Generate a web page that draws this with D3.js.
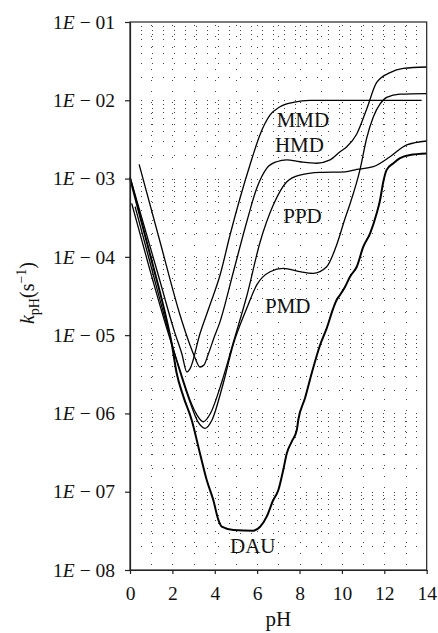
<!DOCTYPE html>
<html>
<head>
<meta charset="utf-8">
<script src="https://cdn.jsdelivr.net/npm/d3@7"></script>
<style>
  html, body { margin: 0; padding: 0; background: #fff; }
  svg { display: block; }
  text { font-family: "Liberation Serif", "DejaVu Serif", serif; fill: #111; }
</style>
</head>
<body>
<script>
// ---------- data (pH, k in s^-1) ----------
const pHTicks = [0, 2, 4, 6, 8, 10, 12, 14];
const kTicks = [1e-8, 1e-7, 1e-6, 1e-5, 1e-4, 1e-3, 1e-2, 1e-1];
const kTickExponents = ["08", "07", "06", "05", "04", "03", "02", "01"];

const mmd = [
  [0.00, 1.05e-3], [1.32, 6.04e-5], [2.12, 1.06e-5], [2.45, 5.74e-6], [2.68, 3.38e-6],
  [2.83, 3.70e-6], [3.30, 1.04e-5], [3.78, 2.46e-5], [4.25, 5.86e-5], [4.72, 1.90e-4],
  [5.19, 5.60e-4], [5.66, 1.49e-3], [6.13, 3.61e-3], [6.61, 6.49e-3], [7.08, 8.28e-3],
  [7.71, 9.42e-3], [8.49, 1.00e-2], [10.15, 1.00e-2], [13.76, 1.00e-2]
];
const hmd = [
  [0.43, 1.52e-3], [1.42, 1.55e-4], [2.36, 1.81e-5], [2.83, 7.48e-6], [3.07, 5.10e-6],
  [3.30, 3.92e-6], [3.49, 4.16e-6], [3.68, 5.57e-6], [3.96, 9.20e-6], [4.25, 1.49e-5],
  [4.88, 6.46e-5], [5.51, 2.81e-4], [5.98, 7.52e-4], [6.45, 1.35e-3], [6.92, 1.64e-3],
  [7.39, 1.73e-3], [8.02, 1.64e-3], [8.81, 1.57e-3], [9.44, 1.73e-3], [9.91, 2.20e-3],
  [10.23, 2.55e-3], [10.70, 3.71e-3], [11.17, 7.74e-3], [11.64, 1.69e-2], [12.27, 2.26e-2],
  [12.90, 2.55e-2], [14.00, 2.66e-2]
];
const ppd = [
  [0.08, 4.83e-4], [0.94, 6.79e-5], [1.73, 1.23e-5], [2.36, 3.59e-6], [2.83, 1.49e-6],
  [3.16, 9.55e-7], [3.46, 7.83e-7], [3.78, 9.84e-7], [4.33, 2.52e-6], [4.88, 8.17e-6],
  [5.51, 3.16e-5], [6.14, 1.55e-4], [6.76, 4.59e-4], [7.40, 9.12e-4], [8.02, 1.11e-3],
  [8.97, 1.20e-3], [10.15, 1.22e-3], [10.70, 1.31e-3], [11.48, 1.42e-3], [12.27, 1.90e-3],
  [13.06, 2.69e-3], [14.00, 3.02e-3]
];
const pmd = [
  [0.24, 4.38e-4], [0.94, 8.59e-5], [1.73, 1.35e-5], [2.36, 3.38e-6], [2.83, 1.40e-6],
  [3.21, 7.78e-7], [3.54, 6.46e-7], [3.87, 8.24e-7], [4.34, 2.11e-6], [4.88, 7.71e-6],
  [5.51, 2.20e-5], [5.98, 4.38e-5], [6.61, 6.46e-5], [7.23, 7.14e-5], [8.02, 6.46e-5],
  [8.65, 6.17e-5], [9.28, 7.48e-5], [9.75, 1.42e-4], [10.15, 3.11e-4], [10.38, 4.73e-4],
  [10.85, 1.29e-3], [11.17, 3.30e-3], [11.48, 6.11e-3], [11.80, 8.98e-3], [12.11, 1.09e-2],
  [12.74, 1.20e-2], [14.00, 1.22e-2]
];
const dau = [
  [0.00, 1.02e-3], [0.94, 1.09e-4], [1.73, 1.56e-5], [1.98, 7.48e-6], [2.20, 3.28e-6],
  [2.52, 1.64e-6], [2.91, 8.24e-7], [3.30, 3.10e-7], [3.62, 1.41e-7], [3.93, 7.83e-8],
  [4.17, 4.36e-8], [4.33, 3.57e-8], [4.88, 3.24e-8], [5.82, 3.18e-8], [6.14, 3.57e-8],
  [6.45, 4.80e-8], [6.76, 7.83e-8], [7.00, 1.05e-7], [7.23, 1.89e-7], [7.40, 3.10e-7],
  [7.63, 4.36e-7], [7.87, 6.14e-7], [7.94, 8.24e-7], [8.26, 1.57e-6], [8.59, 3.38e-6],
  [8.97, 7.48e-6], [9.28, 1.22e-5], [9.59, 2.20e-5], [9.75, 2.81e-5], [9.91, 3.26e-5],
  [10.15, 4.16e-5], [10.38, 5.58e-5], [10.70, 7.48e-5], [11.01, 1.35e-4], [11.33, 2.00e-4],
  [11.64, 3.60e-4], [11.80, 5.32e-4], [11.95, 9.04e-4], [12.11, 1.29e-3], [12.43, 1.57e-3],
  [12.74, 1.82e-3], [13.21, 2.00e-3], [14.00, 2.09e-3]
];

const seriesNames = ["MMD", "HMD", "PPD", "PMD", "DAU"];
const seriesData = [mmd, hmd, ppd, pmd, dau];
// label anchor (left end of text, baseline)
const labelPH = [6.92, 6.84, 7.23, 6.37, 4.72];
const labelK = [4.6e-3, 2.2e-3, 2.69e-4, 1.9e-5, 1.63e-8];

// ---------- layout ----------
const W = 438, H = 633;
const svg = d3.select("body").append("svg").attr("width", W).attr("height", H);
svg.append("rect").attr("width", W).attr("height", H).attr("fill", "#fff");

const x = d3.scaleLinear().domain([0, 14]).range([130, 426.7]);
const y = d3.scaleLog().domain([1e-8, 1e-1]).range([570, 22]);

// ---------- grid ----------
const grid = svg.append("g").attr("stroke", "#444").attr("stroke-width", 1)
  .attr("stroke-dasharray", "1,10").attr("fill", "none");
const hVals = [];
for (let e = -8; e <= -2; e++) {
  for (let m = 1; m <= 9; m++) {
    const v = m * Math.pow(10, e);
    if (v > 1e-8 * 1.001 && v < 1e-1 * 0.999) hVals.push(v);
  }
}
grid.selectAll("line.h").data(hVals).join("line").attr("class", "h")
  .attr("x1", x(0) + 11).attr("x2", x(14) - 1)
  .attr("y1", d => Math.round(y(d)) + 0.5).attr("y2", d => Math.round(y(d)) + 0.5);
const vVals = d3.range(1, 14);
grid.selectAll("line.v").data(vVals).join("line").attr("class", "v")
  .attr("x1", d => Math.round(x(d)) + 0.5).attr("x2", d => Math.round(x(d)) + 0.5)
  .attr("y1", y(1e-1) + 3).attr("y2", y(1e-8));

// ---------- curves ----------
const line = d3.line().x(d => x(d[0])).y(d => y(d[1])).curve(d3.curveMonotoneX);
seriesData.forEach((s, i) => {
  svg.append("path").datum(s).attr("d", line)
    .attr("fill", "none").attr("stroke", "#000")
    .attr("stroke-width", seriesNames[i] === "DAU" ? 2 : 1.3)
    .attr("stroke-linejoin", "round");
});

// ---------- axes & frame ----------
svg.append("rect").attr("x", x(0)).attr("y", y(1e-1))
  .attr("width", x(14) - x(0)).attr("height", y(1e-8) - y(1e-1))
  .attr("fill", "none").attr("stroke", "#222").attr("stroke-width", 1.2);

const yAxis = d3.axisLeft(y).tickValues(kTicks).tickSize(5).tickSizeOuter(0).tickPadding(10);
const gy = svg.append("g").attr("transform", `translate(${x(0)},0)`).call(yAxis);
gy.select(".domain").attr("stroke", "#222").attr("stroke-width", 1.2);
gy.selectAll(".tick line").attr("stroke", "#222").attr("stroke-width", 1.2);
gy.selectAll(".tick text").each(function (d, i) {
  const t = d3.select(this);
  t.text(null).attr("font-size", 19.5).attr("font-family", "Liberation Serif")
    .style("white-space", "pre").attr("fill", "#111");
  t.append("tspan").text("1");
  t.append("tspan").attr("font-style", "italic").text("E");
  t.append("tspan").text(" \u2212 " + kTickExponents[i]);
});

const xAxis = d3.axisBottom(x).tickValues(pHTicks).tickSize(4).tickSizeOuter(0).tickPadding(12.5)
  .tickFormat(d3.format("d"));
const gx = svg.append("g").attr("transform", `translate(0,${y(1e-8)})`).call(xAxis);
gx.select(".domain").attr("stroke", "#222").attr("stroke-width", 1.2);
gx.selectAll(".tick line").attr("stroke", "#222").attr("stroke-width", 1.2);
gx.selectAll(".tick text").attr("font-size", 19.5).attr("font-family", "Liberation Serif").attr("fill", "#111");

// ---------- axis titles ----------
svg.append("text").attr("x", (x(0) + x(14)) / 2).attr("y", 625.5)
  .attr("text-anchor", "middle").attr("font-size", 21).text("pH");

const yl = svg.append("text").attr("font-size", 20);
yl.append("tspan").attr("font-style", "italic").text("k");
yl.append("tspan").attr("font-size", 14).attr("dy", 5).text("pH");
yl.append("tspan").attr("dy", -5).text("(s");
yl.append("tspan").attr("font-size", 14).attr("dy", -8).text("\u22121");
yl.append("tspan").attr("dy", 8).text(")");
const bb = yl.node().getBBox();
yl.attr("x", -bb.width / 2 - bb.x)
  .attr("transform", "translate(34,293) rotate(-90)");

// ---------- curve labels ----------
svg.selectAll("text.lbl").data(seriesNames).join("text").attr("class", "lbl")
  .attr("x", (d, i) => x(labelPH[i])).attr("y", (d, i) => y(labelK[i]))
  .attr("font-size", 21).text(d => d);
</script>
</body>
</html>
